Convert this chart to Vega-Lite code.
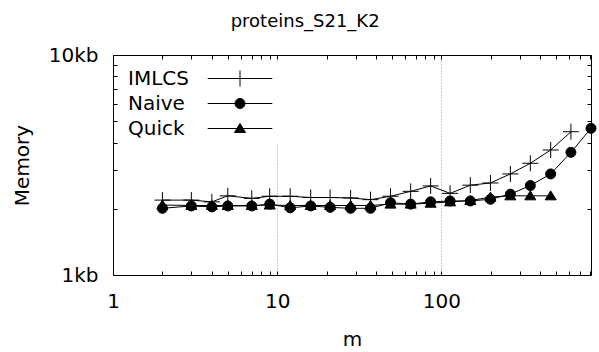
{
  "$schema": "https://vega.github.io/schema/vega-lite/v6.json",
  "width": 478,
  "height": 220,
  "autosize": {"type": "none"},
  "padding": {"left": 113, "top": 55, "right": 8, "bottom": 77},
  "background": "white",
  "config": {
    "font": "DejaVu Sans",
    "view": {"stroke": "black", "strokeWidth": 1},
    "axis": {
      "labelFont": "DejaVu Sans",
      "labelFontSize": 20,
      "labelColor": "black",
      "titleFont": "DejaVu Sans",
      "titleFontSize": 20,
      "titleFontWeight": "normal",
      "titleColor": "black",
      "tickColor": "black",
      "tickWidth": 1,
      "domain": false,
      "labelOverlap": false,
      "labelFlush": false,
      "labelBound": false
    },
    "legend": {"labelFont": "DejaVu Sans"}
  },
  "title": {
    "text": "proteins_S21_K2",
    "font": "DejaVu Sans",
    "fontSize": 18,
    "fontWeight": "normal",
    "color": "black",
    "anchor": "middle",
    "frame": "bounds",
    "baseline": "alphabetic",
    "offset": 0
  },
  "data": {
    "values": [
      {"series": "IMLCS", "m": 2, "mem": 2.19},
      {"series": "IMLCS", "m": 3, "mem": 2.19},
      {"series": "IMLCS", "m": 4, "mem": 2.15},
      {"series": "IMLCS", "m": 5, "mem": 2.29},
      {"series": "IMLCS", "m": 7, "mem": 2.23},
      {"series": "IMLCS", "m": 9, "mem": 2.28},
      {"series": "IMLCS", "m": 12, "mem": 2.28},
      {"series": "IMLCS", "m": 16, "mem": 2.25},
      {"series": "IMLCS", "m": 21, "mem": 2.25},
      {"series": "IMLCS", "m": 28, "mem": 2.24},
      {"series": "IMLCS", "m": 37, "mem": 2.2},
      {"series": "IMLCS", "m": 49, "mem": 2.28},
      {"series": "IMLCS", "m": 65, "mem": 2.4},
      {"series": "IMLCS", "m": 86, "mem": 2.54},
      {"series": "IMLCS", "m": 113, "mem": 2.35},
      {"series": "IMLCS", "m": 150, "mem": 2.56},
      {"series": "IMLCS", "m": 199, "mem": 2.62},
      {"series": "IMLCS", "m": 263, "mem": 2.88},
      {"series": "IMLCS", "m": 348, "mem": 3.22},
      {"series": "IMLCS", "m": 463, "mem": 3.7},
      {"series": "IMLCS", "m": 615, "mem": 4.48},
      {"series": "Naive", "m": 2, "mem": 2.01},
      {"series": "Naive", "m": 3, "mem": 2.06},
      {"series": "Naive", "m": 4, "mem": 2.04},
      {"series": "Naive", "m": 5, "mem": 2.06},
      {"series": "Naive", "m": 7, "mem": 2.06},
      {"series": "Naive", "m": 9, "mem": 2.1},
      {"series": "Naive", "m": 12, "mem": 2.02},
      {"series": "Naive", "m": 16, "mem": 2.06},
      {"series": "Naive", "m": 21, "mem": 2.03},
      {"series": "Naive", "m": 28, "mem": 2.01},
      {"series": "Naive", "m": 37, "mem": 2.01},
      {"series": "Naive", "m": 49, "mem": 2.13},
      {"series": "Naive", "m": 65, "mem": 2.1},
      {"series": "Naive", "m": 86, "mem": 2.15},
      {"series": "Naive", "m": 113, "mem": 2.17},
      {"series": "Naive", "m": 150, "mem": 2.17},
      {"series": "Naive", "m": 199, "mem": 2.21},
      {"series": "Naive", "m": 263, "mem": 2.33},
      {"series": "Naive", "m": 348, "mem": 2.55},
      {"series": "Naive", "m": 463, "mem": 2.88},
      {"series": "Naive", "m": 615, "mem": 3.61},
      {"series": "Naive", "m": 815, "mem": 4.64},
      {"series": "Quick", "m": 2, "mem": 2.08},
      {"series": "Quick", "m": 3, "mem": 2.07},
      {"series": "Quick", "m": 4, "mem": 2.07},
      {"series": "Quick", "m": 5, "mem": 2.07},
      {"series": "Quick", "m": 7, "mem": 2.07},
      {"series": "Quick", "m": 9, "mem": 2.08},
      {"series": "Quick", "m": 12, "mem": 2.07},
      {"series": "Quick", "m": 16, "mem": 2.07},
      {"series": "Quick", "m": 21, "mem": 2.07},
      {"series": "Quick", "m": 28, "mem": 2.07},
      {"series": "Quick", "m": 37, "mem": 2.07},
      {"series": "Quick", "m": 49, "mem": 2.1},
      {"series": "Quick", "m": 65, "mem": 2.1},
      {"series": "Quick", "m": 86, "mem": 2.12},
      {"series": "Quick", "m": 113, "mem": 2.15},
      {"series": "Quick", "m": 150, "mem": 2.18},
      {"series": "Quick", "m": 199, "mem": 2.26},
      {"series": "Quick", "m": 263, "mem": 2.29},
      {"series": "Quick", "m": 348, "mem": 2.29},
      {"series": "Quick", "m": 463, "mem": 2.29}
    ]
  },
  "layer": [
    {
      "mark": {"type": "line", "color": "black", "strokeWidth": 1},
      "encoding": {
        "x": {
          "field": "m",
          "type": "quantitative",
          "scale": {"type": "log", "domain": [1, 815]},
          "axis": {
            "orient": "bottom",
            "title": "m",
            "titlePadding": 18,
            "values": [1, 2, 3, 4, 5, 6, 7, 8, 9, 10, 20, 30, 40, 50, 60, 70, 80, 90, 100, 200, 300, 400, 500, 600, 700, 800],
            "labelExpr": "indexof([1, 10, 100], datum.value) >= 0 ? format(datum.value, 'd') : ''",
            "tickSize": -4,
            "labelPadding": 20,
            "grid": true,
            "gridColor": "#a0a0a0",
            "gridDash": [1, 2],
            "gridWidth": 1,
            "gridOpacity": {"condition": {"test": "datum.value == 10 || datum.value == 100", "value": 1}, "value": 0},
            "encode": {
              "ticks": {"update": {"y2": {"signal": "indexof([1, 10, 100], datum.value) >= 0 ? -9 : -4"}}}
            }
          }
        },
        "y": {
          "field": "mem",
          "type": "quantitative",
          "scale": {"type": "log", "domain": [1, 10]},
          "axis": {
            "orient": "left",
            "title": "Memory",
            "titlePadding": 16,
            "values": [1, 2, 3, 4, 5, 6, 7, 8, 9, 10],
            "labelExpr": "datum.value == 1 ? '1kb' : datum.value == 10 ? '10kb' : ''",
            "tickSize": -4,
            "labelPadding": 19,
            "grid": false,
            "encode": {
              "ticks": {"update": {"x2": {"signal": "(datum.value == 1 || datum.value == 10) ? 9 : 4"}}}
            }
          }
        },
        "detail": {"field": "series", "type": "nominal"}
      }
    },
    {
      "mark": {"type": "point", "filled": true, "stroke": "black", "strokeWidth": 1, "size": 256, "opacity": 1},
      "encoding": {
        "x": {
          "field": "m",
          "type": "quantitative",
          "scale": {"type": "log", "domain": [1, 815]},
          "axis": {
            "orient": "top",
            "title": null,
            "values": [1, 2, 3, 4, 5, 6, 7, 8, 9, 10, 20, 30, 40, 50, 60, 70, 80, 90, 100, 200, 300, 400, 500, 600, 700, 800],
            "labels": false,
            "tickSize": -4,
            "grid": false,
            "encode": {
              "ticks": {"update": {"y2": {"signal": "indexof([1, 10, 100], datum.value) >= 0 ? 9 : 4"}}}
            }
          }
        },
        "y": {
          "field": "mem",
          "type": "quantitative",
          "scale": {"type": "log", "domain": [1, 10]},
          "axis": {
            "orient": "right",
            "title": null,
            "values": [1, 2, 3, 4, 5, 6, 7, 8, 9, 10],
            "labels": false,
            "tickSize": -4,
            "grid": false,
            "encode": {
              "ticks": {"update": {"x2": {"signal": "(datum.value == 1 || datum.value == 10) ? -9 : -4"}}}
            }
          }
        },
        "shape": {
          "field": "series",
          "type": "nominal",
          "scale": {
            "domain": ["IMLCS", "Naive", "Quick"],
            "range": [
              "M-1,0H1M0,-1V1",
              "M0.625,0A0.625,0.625,0,1,1,-0.625,0A0.625,0.625,0,1,1,0.625,0Z",
              "M0,-0.62L0.69,0.5L-0.69,0.5Z"
            ]
          },
          "legend": null
        },
        "fill": {
          "field": "series",
          "type": "nominal",
          "scale": {"domain": ["IMLCS", "Naive", "Quick"], "range": ["transparent", "black", "black"]},
          "legend": null
        }
      }
    },
    {
      "transform": [{"filter": "datum.m < 0"}],
      "mark": {"type": "point", "filled": true, "color": "black", "stroke": "black", "strokeWidth": 1, "size": 256, "opacity": 1},
      "encoding": {
        "shape": {
          "field": "series",
          "type": "nominal",
          "scale": {
            "domain": ["IMLCS", "Naive", "Quick"],
            "range": [
              "M-4.04,0H4.04M0,-1V1",
              "M-4.04,0H4.04M0.625,0A0.625,0.625,0,1,1,-0.625,0A0.625,0.625,0,1,1,0.625,0Z",
              "M-4.04,0H4.04M0,-0.62L0.69,0.5L-0.69,0.5Z"
            ]
          },
          "legend": {
            "orient": "none",
            "legendX": 9,
            "legendY": 7.5,
            "title": null,
            "padding": 6,
            "offset": 0,
            "fillColor": "white",
            "labelFontSize": 20,
            "labelColor": "black",
            "labelOffset": -122,
            "symbolOffset": 102,
            "rowPadding": 5,
            "symbolSize": 256,
            "symbolStrokeWidth": 1,
            "symbolOpacity": 1
          }
        }
      }
    }
  ],
  "resolve": {
    "axis": {"x": "independent", "y": "independent"},
    "scale": {"shape": "independent"}
  }
}
